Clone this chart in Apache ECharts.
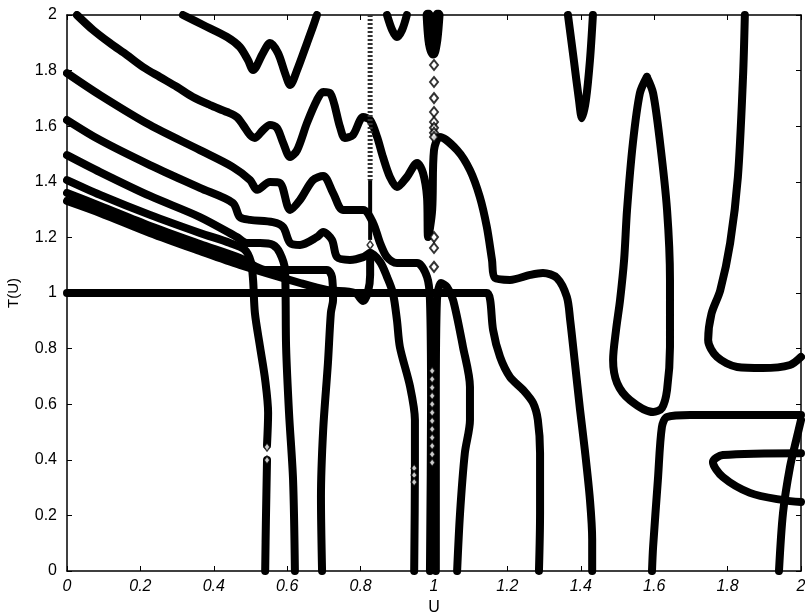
<!DOCTYPE html>
<html>
<head>
<meta charset="utf-8">
<script src="https://cdn.jsdelivr.net/npm/echarts@6/dist/echarts.min.js"></script>
<style>
  html, body { margin: 0; padding: 0; background: #fff; }
  #chart { width: 805px; height: 612px; }
</style>
</head>
<body>
<div id="chart"></div>
<script>
// Axis ticks
const xTicks = [0, 0.2, 0.4, 0.6, 0.8, 1, 1.2, 1.4, 1.6, 1.8, 2];
const yTicks = [0, 0.2, 0.4, 0.6, 0.8, 1, 1.2, 1.4, 1.6, 1.8, 2];

// Contour lines of T(U), each as [U, T] pairs
const topWave = [[0.316,2.0],[0.371,1.964],[0.436,1.921],[0.471,1.885],[0.493,1.838],[0.507,1.802],[0.534,1.863],[0.553,1.899],[0.575,1.863],[0.594,1.791],[0.608,1.748],[0.627,1.802],[0.654,1.899],[0.670,1.957],[0.681,2.0]];

const level1 = [[0.027,2.0],[0.071,1.946],[0.117,1.899],[0.163,1.856],[0.207,1.813],[0.253,1.777],[0.300,1.741],[0.343,1.705],[0.390,1.676],[0.436,1.651],[0.463,1.633],[0.480,1.604],[0.499,1.568],[0.512,1.558],[0.534,1.586],[0.553,1.604],[0.572,1.594],[0.589,1.540],[0.608,1.489],[0.627,1.514],[0.654,1.612],[0.681,1.694],[0.698,1.723],[0.717,1.719],[0.744,1.597],[0.757,1.558],[0.779,1.568],[0.807,1.633],[0.826,1.622],[0.845,1.561],[0.861,1.489],[0.880,1.417],[0.899,1.381],[0.926,1.417],[0.954,1.468],[0.970,1.432],[0.981,1.345],[0.984,1.201],[0.995,1.299],[1.0,1.514],[1.016,1.561],[1.063,1.514],[1.098,1.442],[1.125,1.345],[1.144,1.237],[1.158,1.119],[1.166,1.054],[1.207,1.047],[1.262,1.065],[1.297,1.072],[1.335,1.054],[1.362,0.986],[1.371,0.903],[1.384,0.748],[1.398,0.579],[1.411,0.435],[1.425,0.255],[1.431,0.112],[1.431,0]];

const level2 = [[0,1.791],[0.090,1.712],[0.226,1.604],[0.362,1.514],[0.452,1.453],[0.499,1.406],[0.518,1.371],[0.553,1.399],[0.580,1.396],[0.608,1.299],[0.635,1.335],[0.670,1.406],[0.698,1.421],[0.725,1.360],[0.752,1.299],[0.807,1.299],[0.834,1.252],[0.853,1.180],[0.872,1.129],[0.899,1.108],[0.954,1.108],[0.981,1.058],[0.989,0.975],[0.992,0.615],[0.989,0]];

const level3 = [[0,1.622],[0.090,1.550],[0.226,1.460],[0.362,1.378],[0.452,1.324],[0.471,1.273],[0.499,1.263],[0.561,1.255],[0.589,1.237],[0.608,1.180],[0.635,1.173],[0.681,1.201],[0.698,1.219],[0.722,1.191],[0.736,1.129],[0.771,1.119],[0.807,1.129],[0.826,1.144],[0.853,1.112],[0.872,1.058],[0.888,1.0],[0.899,0.903],[0.907,0.806],[0.935,0.662],[0.948,0.543],[0.948,0.374],[0.946,0]];

const level4 = [[0,1.496],[0.090,1.435],[0.226,1.349],[0.362,1.273],[0.463,1.201],[0.490,1.180],[0.526,1.180],[0.561,1.173],[0.580,1.144],[0.594,1.083],[0.597,0.806],[0.605,0.568],[0.616,0.327],[0.621,0]];

const level5a = [[0,1.406],[0.090,1.353],[0.226,1.281],[0.362,1.216],[0.444,1.180],[0.485,1.155],[0.501,1.112],[0.507,1.047],[0.512,0.928],[0.526,0.806],[0.540,0.687],[0.548,0.568],[0.545,0.453]];
const level5b = [[0.545,0.399],[0.542,0.183],[0.540,0]];

const level6 = [[0,1.360],[0.090,1.313],[0.226,1.241],[0.362,1.176],[0.471,1.126],[0.512,1.097],[0.540,1.083],[0.708,1.083],[0.722,1.058],[0.725,0.975],[0.719,0.928],[0.711,0.748],[0.698,0.507],[0.692,0.266],[0.695,0]];

const level7 = [[0,1.331],[0.090,1.288],[0.226,1.216],[0.362,1.151],[0.471,1.101],[0.635,1.036],[0.708,1.011],[0.785,1.0],[0.807,0.971],[0.820,1.004],[0.826,1.065],[0.826,1.144]];

const unitLine = [[0,1.0],[1.144,1.0],[1.153,0.975],[1.161,0.867],[1.180,0.770],[1.207,0.698],[1.243,0.651],[1.270,0.604],[1.283,0.543],[1.289,0.424],[1.289,0.209],[1.286,0]];

const arch = [[1.005,0],[1.005,0.615],[1.008,0.975],[1.019,1.036],[1.035,1.022],[1.052,0.975],[1.079,0.806],[1.098,0.662],[1.098,0.543],[1.084,0.424],[1.071,0.209],[1.063,0]];

const smallDip = [[0.872,2.0],[0.886,1.946],[0.899,1.921],[0.913,1.946],[0.926,2.0]];
const spikeAtOne = [[0.984,2.0],[0.989,1.910],[0.997,1.863],[1.005,1.910],[1.011,2.0]];
const dipNear14 = [[1.365,2.0],[1.381,1.838],[1.395,1.694],[1.403,1.629],[1.414,1.694],[1.425,1.838],[1.433,2.0]];

const loop16 = [[1.580,1.777],[1.597,1.719],[1.616,1.540],[1.635,1.299],[1.643,1.047],[1.643,0.806],[1.635,0.651],[1.621,0.586],[1.597,0.572],[1.534,0.615],[1.499,0.676],[1.488,0.759],[1.496,0.867],[1.507,0.975],[1.518,1.119],[1.526,1.299],[1.542,1.540],[1.561,1.719],[1.580,1.777]];

const rightHook = [[1.847,2.0],[1.842,1.777],[1.828,1.417],[1.807,1.180],[1.780,1.010],[1.756,0.925],[1.747,0.831],[1.771,0.770],[1.826,0.734],[1.896,0.730],[1.970,0.741],[2.0,0.770]];

const rightCorner = [[2.0,0.561],[1.698,0.561],[1.635,0.554],[1.621,0.518],[1.610,0.327],[1.597,0.086],[1.594,0]];

const rightLoop = [[2.0,0.424],[1.787,0.417],[1.760,0.392],[1.787,0.338],[1.861,0.281],[1.951,0.255],[2.0,0.248]];

const rightSlant = [[1.940,0],[1.951,0.209],[1.970,0.374],[1.989,0.482],[2.0,0.543]];

// The U = 0.83 branch: dotted upper part, thin middle part
const branchDotted = [[0.826,2.0],[0.826,1.406]];
const branchThin = [[0.826,1.406],[0.826,1.191]];

// Isolated open-diamond points
const diamondsAtOne = [[1.0,1.82],[1.0,1.759],[1.0,1.701],[1.0,1.651],[1.0,1.615],[1.0,1.594],[1.0,1.576],[1.0,1.561],[1.0,1.201],[1.0,1.162],[1.0,1.094]];
const diamondsLow = [[0.995,0.72],[0.995,0.69],[0.995,0.66],[0.995,0.63],[0.995,0.60],[0.995,0.57],[0.995,0.54],[0.995,0.51],[0.995,0.48],[0.995,0.45],[0.995,0.42],[0.995,0.39],[0.946,0.37],[0.946,0.345],[0.946,0.32],[0.545,0.446],[0.545,0.399],[0.826,1.173]];

const thickLines = [topWave, level1, level2, level3, level4, level5a, level5b, level6, level7, unitLine, arch, smallDip, dipNear14, loop16, rightHook, rightCorner, rightLoop, rightSlant];

const chart = echarts.init(document.getElementById('chart'), null, { renderer: 'canvas' });

const lineSeries = thickLines.map(function (pts) {
  return {
    type: 'line',
    data: pts,
    showSymbol: false,
    smooth: 0.3,
    clip: true,
    lineStyle: { color: '#000', width: 8, cap: 'round', join: 'round' },
    silent: true
  };
});

const axisFont = { fontFamily: 'Liberation Sans, Arial, sans-serif', fontSize: 16, color: '#000' };

chart.setOption({
  animation: false,
  backgroundColor: '#fff',
  grid: { left: 67, right: 4, top: 15, bottom: 41, containLabel: false, outerBoundsMode: 'none' },
  xAxis: [
    {
      type: 'value', min: 0, max: 2, interval: 0.2,
      name: 'U', nameLocation: 'middle', nameGap: 23,
      nameTextStyle: Object.assign({}, axisFont, { fontSize: 16 }),
      axisLine: { show: true, onZero: false, lineStyle: { color: '#000', width: 1.5 } },
      axisTick: { inside: true, length: 5, lineStyle: { color: '#000' } },
      axisLabel: Object.assign({}, axisFont, { fontStyle: 'italic', margin: 8 }),
      splitLine: { show: false }
    },
    {
      type: 'value', min: 0, max: 2, interval: 0.2, position: 'top',
      axisLine: { show: true, onZero: false, lineStyle: { color: '#000', width: 1.5 } },
      axisTick: { inside: true, length: 5, lineStyle: { color: '#000' } },
      axisLabel: { show: false },
      splitLine: { show: false }
    }
  ],
  yAxis: [
    {
      type: 'value', min: 0, max: 2, interval: 0.2,
      name: 'T(U)', nameLocation: 'middle', nameGap: 46, nameRotate: 90,
      nameTextStyle: Object.assign({}, axisFont, { fontSize: 15 }),
      axisLine: { show: true, onZero: false, lineStyle: { color: '#000', width: 1.5 } },
      axisTick: { inside: true, length: 5, lineStyle: { color: '#000' } },
      axisLabel: Object.assign({}, axisFont, { margin: 10 }),
      splitLine: { show: false }
    },
    {
      type: 'value', min: 0, max: 2, interval: 0.2, position: 'right',
      axisLine: { show: true, onZero: false, lineStyle: { color: '#000', width: 1.5 } },
      axisTick: { inside: true, length: 5, lineStyle: { color: '#000' } },
      axisLabel: { show: false },
      splitLine: { show: false }
    }
  ],
  series: lineSeries.concat([
    {
      type: 'line', data: spikeAtOne, showSymbol: false, smooth: 0.3,
      lineStyle: { color: '#000', width: 11, cap: 'round', join: 'round' }, silent: true
    },
    {
      type: 'line', data: branchDotted, showSymbol: false,
      lineStyle: { color: '#333', width: 5, type: [2, 2] }, silent: true
    },
    {
      type: 'line', data: branchThin, showSymbol: false,
      lineStyle: { color: '#000', width: 4 }, silent: true
    },
    {
      type: 'scatter', data: diamondsAtOne, symbol: 'diamond', symbolSize: [8, 10],
      itemStyle: { color: '#fff', borderColor: '#000', borderWidth: 2 }, silent: true, z: 5
    },
    {
      type: 'scatter', data: diamondsLow, symbol: 'diamond', symbolSize: [6, 8],
      itemStyle: { color: '#fff', borderColor: '#000', borderWidth: 1.5 }, silent: true, z: 5
    }
  ])
});
</script>
</body>
</html>
